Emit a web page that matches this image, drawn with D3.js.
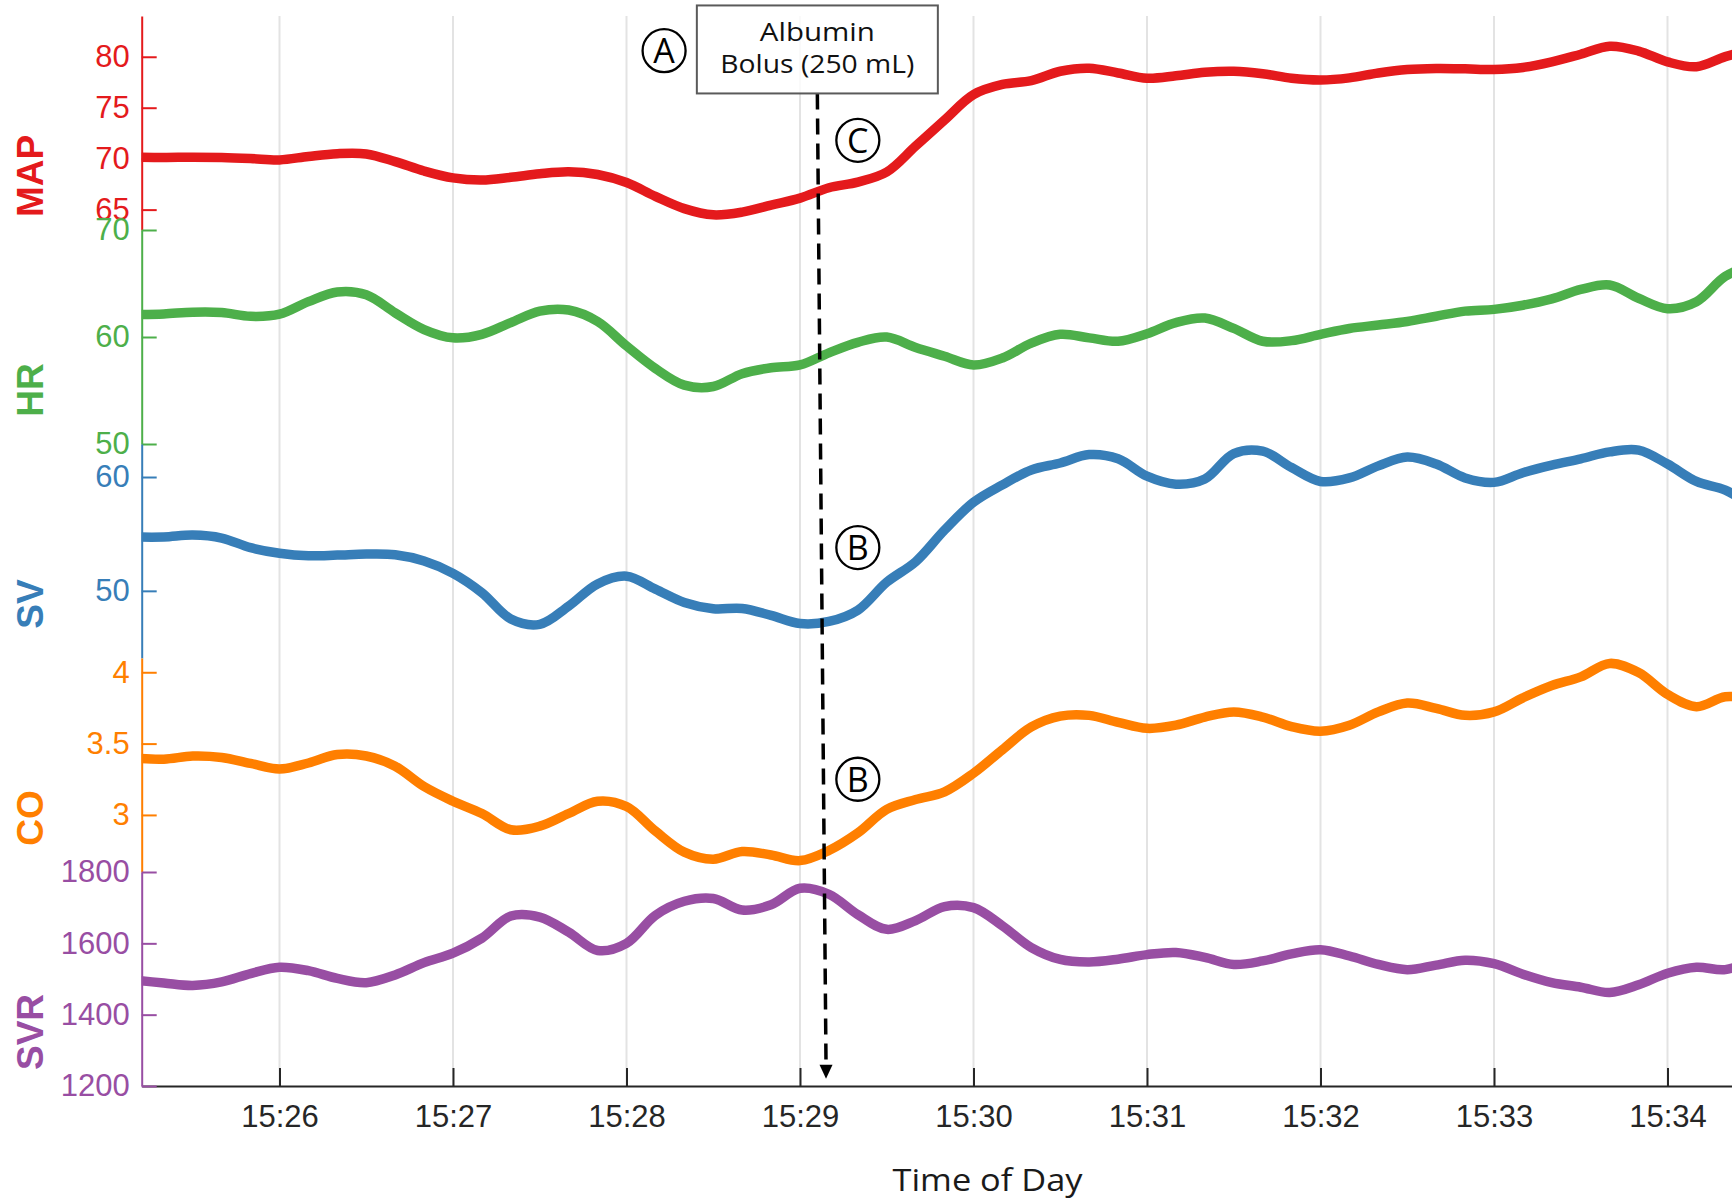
<!DOCTYPE html>
<html>
<head>
<meta charset="utf-8">
<script src="https://cdn.jsdelivr.net/npm/d3@7"></script>
<style>
  html, body { margin: 0; padding: 0; background: #ffffff; }
  svg { display: block; }
</style>
</head>
<body>
<svg id="chart" width="1732" height="1199"></svg>
<script>
// Sample times, in seconds after 15:25:00
const sampleSeconds = [10, 20, 30, 40, 50, 60, 70, 80, 90, 100, 110, 120, 130, 140, 150, 160, 170, 180, 190, 200,
  210, 220, 230, 240, 250, 260, 270, 280, 290, 300, 310, 320, 330, 340, 350, 360, 370, 380, 390, 400,
  410, 420, 430, 440, 450, 460, 470, 480, 490, 500, 510, 520, 530, 540, 550, 560, 570];

// Mean arterial pressure (mmHg)
const mapValues = [70.15, 70.12, 70.15, 70.12, 70.02, 69.88, 70.22, 70.49, 70.46, 69.71, 68.79, 68.11, 67.90, 68.17, 68.52,
  68.72, 68.45, 67.66, 66.30, 65.10, 64.49, 64.76, 65.45, 66.13, 67.15, 67.70, 68.69, 71.24, 73.80, 76.29,
  77.28, 77.66, 78.58, 78.88, 78.41, 77.89, 78.13, 78.48, 78.58, 78.34, 77.89, 77.72, 77.93, 78.41, 78.75,
  78.85, 78.82, 78.75, 78.95, 79.50, 80.25, 81.03, 80.56, 79.50, 79.02, 80.01, 80.79];

// Heart rate (bpm)
const hrValues = [62.10, 62.16, 62.32, 62.29, 61.93, 62.13, 63.30, 64.21, 63.95, 62.26, 60.70, 59.92, 60.25, 61.35, 62.42,
  62.52, 61.45, 59.17, 57.06, 55.50, 55.37, 56.57, 57.13, 57.39, 58.52, 59.50, 59.99, 59.01, 58.20, 57.39,
  58.04, 59.43, 60.25, 59.92, 59.60, 60.31, 61.35, 61.77, 60.80, 59.60, 59.66, 60.25, 60.80, 61.12, 61.45,
  61.94, 62.42, 62.58, 62.97, 63.56, 64.44, 64.86, 63.62, 62.65, 63.30, 65.67, 66.81];

// Stroke volume (mL)
const svValues = [54.73, 54.73, 54.90, 54.64, 53.79, 53.30, 53.08, 53.14, 53.23, 53.17, 52.62, 51.54, 49.84, 47.53, 47.06,
  48.66, 50.61, 51.29, 50.15, 48.98, 48.43, 48.45, 47.84, 47.13, 47.31, 48.30, 50.76, 52.56, 55.34, 57.78,
  59.31, 60.62, 61.23, 61.97, 61.60, 60.07, 59.37, 59.82, 62.06, 62.27, 60.83, 59.61, 59.92, 60.98, 61.75,
  61.14, 59.92, 59.53, 60.38, 61.05, 61.60, 62.21, 62.36, 61.14, 59.61, 58.85, 57.32];

// Cardiac output (L/min)
const coValues = [3.398, 3.391, 3.413, 3.403, 3.361, 3.322, 3.364, 3.423, 3.413, 3.341, 3.199, 3.096, 3.010, 2.896, 2.921,
  3.010, 3.096, 3.059, 2.887, 2.739, 2.690, 2.744, 2.719, 2.680, 2.751, 2.874, 3.039, 3.108, 3.162, 3.292,
  3.457, 3.617, 3.693, 3.698, 3.649, 3.607, 3.629, 3.686, 3.722, 3.686, 3.619, 3.587, 3.629, 3.722, 3.784,
  3.747, 3.698, 3.722, 3.821, 3.907, 3.968, 4.062, 3.998, 3.845, 3.759, 3.828, 3.808];

// Systemic vascular resistance (dyn·s/cm5)
const svrValues = [1496.6, 1488.8, 1481.9, 1491.7, 1515.3, 1533.1, 1523.3, 1501.6, 1489.8, 1511.4, 1545.9, 1572.3, 1614.6, 1676.6, 1673.6,
  1631.3, 1580.0, 1600.0, 1678.5, 1717.9, 1725.8, 1693.3, 1708.1, 1754.3, 1737.6, 1680.5, 1639.2, 1663.8, 1703.2, 1700.2,
  1649.1, 1588.1, 1554.7, 1547.8, 1555.6, 1568.4, 1574.3, 1560.5, 1540.9, 1550.7, 1570.4, 1582.2, 1564.5, 1540.9, 1526.1,
  1538.9, 1552.7, 1542.9, 1513.4, 1489.8, 1477.0, 1462.2, 1483.8, 1516.3, 1533.1, 1526.2, 1555.7];

// Stacked panels, top to bottom
const panelNames   = ["MAP", "HR", "SV", "CO", "SVR"];
const panelColors  = ["#e41a1c", "#4daf4a", "#377eb8", "#ff7f00", "#984ea3"];
const panelDomains = [[63, 84], [50, 70], [44.1, 62.9], [2.6, 4.1], [1200, 1800]];
const panelTicks   = [[65, 70, 75, 80], [50, 60, 70], [50, 60], [3, 3.5, 4], [1200, 1400, 1600, 1800]];
const panelSeries  = [mapValues, hrValues, svValues, coValues, svrValues];

const timeTickLabels = ["15:26", "15:27", "15:28", "15:29", "15:30", "15:31", "15:32", "15:33", "15:34"];

// Annotations
const bolusLines = ["Albumin", "Bolus (250 mL)"];
const bolusTime = "15:29:06";      // box and top of the arrow
const bolusBoxBottomMap = 76.4;     // box bottom edge, in MAP units
const arrowTipTime = "15:29:09";
const arrowTipSvr = 1220;
const markerLetters = ["A", "C", "B", "B"];
const markerTimes   = ["15:28:13", "15:29:20", "15:29:20", "15:29:20"];
const markerPanels  = ["MAP", "MAP", "SV", "CO"];
const markerValues  = [80.6, 71.8, 53.8, 3.25];

// ---------- layout ----------
const plotLeft = 141.7, plotRight = 1732, plotTop = 16, panelH = 214;
const plotBottom = plotTop + panelH * panelNames.length;
const tickFont = "'Liberation Sans', Arial, Helvetica, sans-serif";
const noteFont = "'Open Sans', 'Noto Sans', sans-serif";

const parseHMS = d3.timeParse("%H:%M:%S");
const parseHM = d3.timeParse("%H:%M");
const base = parseHMS("15:25:00");
const at = s => new Date(base.getTime() + s * 1000);

const x = d3.scaleTime()
  .domain([at(12.35), at(562.3)])
  .range([plotLeft, plotRight]);

const tickDates = timeTickLabels.map(parseHM);

const svg = d3.select("#chart");

svg.append("defs").append("clipPath").attr("id", "plot-clip")
  .append("rect")
  .attr("x", plotLeft).attr("y", 0)
  .attr("width", plotRight - plotLeft).attr("height", 1199);

// vertical grid at each minute
svg.append("g").attr("class", "grid")
  .selectAll("line").data(tickDates).join("line")
  .attr("x1", d => x(d)).attr("x2", d => x(d))
  .attr("y1", plotTop).attr("y2", plotBottom)
  .attr("stroke", "#e3e3e3").attr("stroke-width", 2);

// x axis with inward ticks
const xAxis = d3.axisBottom(x)
  .tickValues(tickDates)
  .tickFormat(d3.timeFormat("%H:%M"))
  .tickSizeInner(-18).tickSizeOuter(0).tickPadding(19);
const gx = svg.append("g").attr("transform", `translate(0,${plotBottom})`).call(xAxis);
gx.select(".domain").attr("stroke", "#262626").attr("stroke-width", 2);
gx.selectAll(".tick line").attr("stroke", "#262626").attr("stroke-width", 2);
gx.selectAll(".tick text")
  .attr("fill", "#262626")
  .style("font-family", tickFont).style("font-size", "31px");

svg.append("text")
  .attr("x", 987.5).attr("y", 1191)
  .attr("text-anchor", "middle")
  .attr("textLength", 190).attr("lengthAdjust", "spacingAndGlyphs")
  .style("font-family", noteFont).style("font-size", "31px")
  .attr("fill", "#1a1a1a")
  .text("Time of Day");

// panels
const yScales = {};
panelNames.forEach((name, i) => {
  const top = plotTop + i * panelH;
  const color = panelColors[i];
  const y = d3.scaleLinear().domain(panelDomains[i]).range([top + panelH, top]);
  yScales[name] = y;

  const yAxis = d3.axisLeft(y)
    .tickValues(panelTicks[i])
    .tickFormat(d3.format("~g"))
    .tickSizeInner(-15).tickSizeOuter(0).tickPadding(12);
  const gy = svg.append("g").attr("transform", `translate(${plotLeft},0)`).call(yAxis);
  gy.select(".domain").attr("stroke", color).attr("stroke-width", 2);
  gy.selectAll(".tick line").attr("stroke", color).attr("stroke-width", 2);
  gy.selectAll(".tick text")
    .attr("fill", color)
    .style("font-family", tickFont).style("font-size", "31px");

  svg.append("text")
    .attr("transform", `translate(43,${top + 160}) rotate(-90)`)
    .attr("text-anchor", "middle")
    .style("font-family", tickFont).style("font-size", "37px").style("font-weight", "bold")
    .attr("fill", color)
    .text(name);

  const pts = sampleSeconds.map((s, k) => ({ t: at(s), v: panelSeries[i][k] }));
  const line = d3.line()
    .x(d => x(d.t))
    .y(d => y(d.v))
    .curve(d3.curveCatmullRom.alpha(0.5));
  svg.append("path")
    .datum(pts)
    .attr("clip-path", "url(#plot-clip)")
    .attr("fill", "none")
    .attr("stroke", color)
    .attr("stroke-width", 9.5)
    .attr("stroke-linejoin", "round")
    .attr("d", line);
});

// bolus box and dashed arrow
const bx = x(parseHMS(bolusTime));
const boxBottom = yScales.MAP(bolusBoxBottomMap);
const boxW = 241, boxH = 88;
const boxTop = boxBottom - boxH;
const tipX = x(parseHMS(arrowTipTime));
const tipY = yScales.SVR(arrowTipSvr);
const headH = 14, headW = 13;

const note = svg.append("g");
note.append("line")
  .attr("x1", bx).attr("y1", boxBottom)
  .attr("x2", tipX).attr("y2", tipY - headH)
  .attr("stroke", "#000").attr("stroke-width", 3.5)
  .attr("stroke-dasharray", "16 9");
note.append("path")
  .attr("d", `M${tipX},${tipY} L${tipX - headW / 2},${tipY - headH} L${tipX + headW / 2},${tipY - headH} Z`)
  .attr("fill", "#000");

note.append("rect")
  .attr("x", bx - boxW / 2).attr("y", boxTop)
  .attr("width", boxW).attr("height", boxH)
  .attr("fill", "#ffffff").attr("fill-opacity", 0.82)
  .attr("stroke", "#5a5a5a").attr("stroke-width", 2);
note.selectAll("text.bolus").data(bolusLines).join("text")
  .attr("class", "bolus")
  .attr("x", bx)
  .attr("y", (d, k) => boxTop + 36 + k * 32)
  .attr("text-anchor", "middle")
  .attr("textLength", (d, k) => k === 0 ? 115 : 194)
  .attr("lengthAdjust", "spacingAndGlyphs")
  .style("font-family", noteFont).style("font-size", "26px")
  .attr("fill", "#111")
  .text(d => d);

// circled letter markers
markerLetters.forEach((letter, k) => {
  const cx = x(parseHMS(markerTimes[k]));
  const cy = yScales[markerPanels[k]](markerValues[k]);
  const g = svg.append("g");
  g.append("circle")
    .attr("cx", cx).attr("cy", cy).attr("r", 21.5)
    .attr("fill", "none").attr("stroke", "#000").attr("stroke-width", 2.3);
  g.append("text")
    .attr("x", cx).attr("y", cy).attr("dy", "0.36em")
    .attr("text-anchor", "middle")
    .style("font-family", noteFont).style("font-size", "34px")
    .attr("fill", "#000")
    .text(letter);
});
</script>
</body>
</html>
